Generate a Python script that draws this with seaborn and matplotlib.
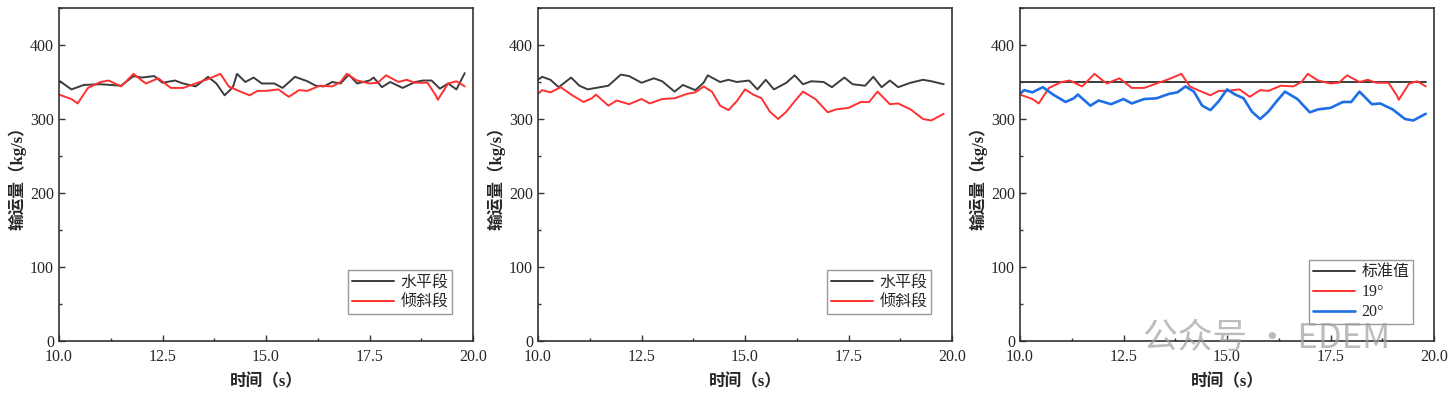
import numpy as np
import pandas as pd
import matplotlib
matplotlib.use('Agg')
import matplotlib.pyplot as plt
from matplotlib.ticker import MultipleLocator, FormatStrFormatter
import seaborn as sns

sns.set_style('ticks')
plt.rcParams['font.family'] = ['Liberation Serif', 'Noto Sans CJK SC']
plt.rcParams['axes.unicode_minus'] = False

# horizontal section (panel 1)
t_h1 = [10.0, 10.3, 10.6, 11.0, 11.5, 11.8, 12.0, 12.3, 12.5, 12.8, 13.0, 13.3, 13.6, 13.8,
        14.0, 14.2, 14.3, 14.5, 14.7, 14.9, 15.2, 15.4, 15.7, 16.0, 16.2, 16.4, 16.6, 16.8,
        17.0, 17.2, 17.5, 17.6, 17.8, 18.0, 18.3, 18.6, 18.8, 19.0, 19.2, 19.4, 19.6, 19.8]
q_h1 = [352, 340, 346, 347, 345, 358, 356, 358, 349, 352, 348, 344, 357, 348,
        332, 343, 361, 350, 356, 348, 348, 342, 357, 351, 345, 344, 350, 348,
        360, 348, 352, 356, 343, 350, 342, 350, 352, 352, 341, 348, 340, 362]

# inclined section at 19 deg (panel 1 and 3)
t_19 = [10.0, 10.3, 10.45, 10.7, 11.0, 11.2, 11.5, 11.8, 12.0, 12.1, 12.4, 12.7, 13.0, 13.3,
        13.6, 13.9, 14.1, 14.3, 14.6, 14.8, 15.0, 15.3, 15.55, 15.8, 16.0, 16.3, 16.6, 16.8,
        16.95, 17.2, 17.5, 17.7, 17.9, 18.2, 18.4, 18.6, 18.9, 19.1, 19.15, 19.4, 19.6, 19.8]
q_19 = [333, 327, 321, 342, 350, 352, 344, 361, 352, 348, 355, 342, 342, 348,
        354, 361, 344, 339, 332, 338, 338, 340, 330, 339, 338, 345, 344, 350,
        361, 352, 348, 349, 359, 350, 353, 349, 349, 332, 326, 348, 351, 344]

# horizontal section (panel 2)
t_h2 = [10.0, 10.1, 10.3, 10.5, 10.8, 11.0, 11.2, 11.5, 11.7, 12.0, 12.2, 12.5, 12.8, 13.0,
        13.3, 13.5, 13.8, 14.0, 14.1, 14.4, 14.6, 14.8, 15.1, 15.3, 15.5, 15.7, 16.0, 16.2,
        16.4, 16.6, 16.9, 17.1, 17.4, 17.6, 17.9, 18.1, 18.3, 18.5, 18.7, 19.0, 19.3, 19.5, 19.8]
q_h2 = [353, 357, 353, 343, 356, 345, 340, 343, 345, 360, 358, 349, 355, 351,
        337, 346, 339, 349, 359, 350, 353, 350, 352, 340, 353, 340, 349, 359,
        347, 351, 350, 343, 356, 347, 345, 357, 343, 352, 343, 349, 353, 351, 347]

# inclined section at 20 deg (panel 2 and 3)
t_20 = [10.0, 10.1, 10.3, 10.55, 10.8, 11.1, 11.3, 11.4, 11.7, 11.9, 12.2, 12.5, 12.7, 13.0,
        13.3, 13.6, 13.8, 14.0, 14.2, 14.4, 14.6, 14.8, 15.0, 15.2, 15.4, 15.6, 15.8, 16.0,
        16.2, 16.4, 16.7, 17.0, 17.2, 17.5, 17.8, 18.0, 18.2, 18.5, 18.7, 19.0, 19.3, 19.5, 19.8]
q_20 = [334, 339, 336, 343, 333, 323, 328, 333, 318, 325, 320, 327, 321, 327,
        328, 334, 336, 344, 337, 318, 312, 324, 340, 333, 328, 310, 300, 310,
        324, 337, 327, 309, 313, 315, 323, 323, 337, 320, 321, 313, 300, 298, 307]

t_std = [10.0, 19.8]
q_std = [350, 350]

BLACK = '#3c3c3c'
RED = '#ff3030'
BLUE = '#1e6fe6'

fig = plt.figure(figsize=(14.51, 3.93), dpi=100)
lefts = [59, 538, 1020]
axes = [fig.add_axes([l / 1451, 1 - 341 / 393, 414 / 1451, 333 / 393]) for l in lefts]

panels = [
    [('水平段', t_h1, q_h1, BLACK, 1.4), ('倾斜段', t_19, q_19, RED, 1.4)],
    [('水平段', t_h2, q_h2, BLACK, 1.4), ('倾斜段', t_20, q_20, RED, 1.4)],
    [('标准值', t_std, q_std, BLACK, 1.4), ('19°', t_19, q_19, RED, 1.4),
     ('20°', t_20, q_20, BLUE, 1.9)],
]

for i, (ax, series) in enumerate(zip(axes, panels)):
    for name, t, q, c, lw in series:
        sns.lineplot(x=t, y=q, ax=ax, color=c, lw=lw, label=name,
                     solid_joinstyle='round', solid_capstyle='round')
    ax.set_xlim(10, 20)
    ax.set_ylim(0, 450)
    ax.xaxis.set_major_locator(MultipleLocator(2.5))
    ax.xaxis.set_minor_locator(MultipleLocator(1.25))
    ax.set_yticks([0, 100, 200, 300, 400])
    ax.yaxis.set_minor_locator(MultipleLocator(50))
    ax.xaxis.set_major_formatter(FormatStrFormatter('%.1f'))
    ax.tick_params(which='both', direction='in', top=False, right=False,
                   labelsize=11.5, color='#333333')
    ax.tick_params(which='major', length=4, width=1)
    ax.tick_params(which='minor', length=2.5, width=1)
    ax.tick_params(axis='x', pad=6)
    for s in ax.spines.values():
        s.set_color('#333333')
        s.set_linewidth(1.2)
    ax.set_xlabel('时间（s）', fontsize=12, fontweight='bold', labelpad=6)
    ax.set_ylabel('输运量（kg/s）', fontsize=12, fontweight='bold', labelpad=3)
    anchor = (0.95, 0.08) if i < 2 else (0.95, 0.05)
    leg = ax.legend(loc='lower right', bbox_to_anchor=anchor,
                    fontsize=11.5, frameon=True, fancybox=False, handlelength=2.6,
                    handletextpad=0.4, borderpad=0.25, labelspacing=0.25, borderaxespad=0)
    leg.get_frame().set_edgecolor('#808080')
    leg.get_frame().set_linewidth(1.0)

# watermark
fig.text(0.873, 1 - 338 / 393, '公众号 · EDEM', fontsize=25,
         color='#a0a0a0', alpha=0.7, ha='center', va='center', zorder=10,
         family=['Noto Sans CJK SC', 'DejaVu Sans'])

fig.savefig('out.png', dpi=100)
